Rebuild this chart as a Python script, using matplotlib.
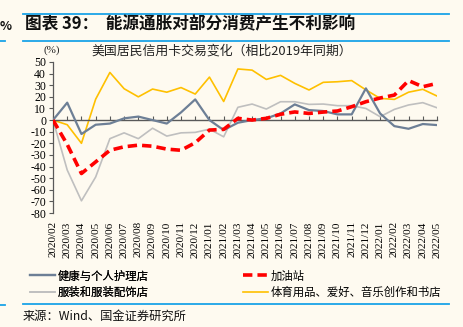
import matplotlib
matplotlib.use("Agg")
import matplotlib.pyplot as plt
from matplotlib.lines import Line2D

plt.rcParams['font.family'] = ['Noto Sans CJK SC', 'DejaVu Sans']

months = ["2020/02", "2020/03", "2020/04", "2020/05", "2020/06", "2020/07", "2020/08",
          "2020/09", "2020/10", "2020/11", "2020/12", "2021/01", "2021/02", "2021/03",
          "2021/04", "2021/05", "2021/06", "2021/07", "2021/08", "2021/09", "2021/10",
          "2021/11", "2021/12", "2022/01", "2022/02", "2022/03", "2022/04", "2022/05"]

health = [0, 15, -12, -4, -3, 1.5, 3, 0, -3, 6.6, 17.8, 0, -8.6, -2.3,
          0, 1.5, 5.7, 13.5, 8.6, 7.8, 4.9, 4.9, 27.3, 5.7, -5.2, -7.5, -3.4, -4.3]
gas = [0, -21, -46, -36, -26, -23, -21.6, -22.5, -25, -26, -19.5, -8.6, -8, 1.5,
       0, 1.5, 5, 7, 5.7, 6.9, 7.8, 11.5, 15.8, 19, 21.5, 34, 28.7, 31.6]
clothing = [0, -43, -69.5, -49, -16, -11, -16, -7, -13.8, -11, -10.6, -7.8, -14.4, 11,
            13.8, 9.5, 15.8, 15.8, 13.5, 13.8, 12.4, 12.4, 10, 2.9, 9.2, 13, 15, 10.6]
sports = [0, -4, -20, 18, 41, 27, 20, 26.7, 24, 28, 22.4, 37, 16, 44,
          43, 35, 38.5, 31.6, 25.9, 32.5, 33, 34, 26, 18.7, 17.8, 24, 26.5, 20.7]

names = ["健康与个人护理店", "加油站", "服装和服装配饰店", "体育用品、爱好、音乐创作和书店"]
yticks = list(range(-80, 51, 10))

BG = "#FEFAF0"
C_HEALTH = "#6D7F96"
C_GAS = "#FF0000"
C_CLOTH = "#BFBFBF"
C_SPORT = "#FFC000"
C_BLUE = "#1AA3E8"
C_AX = "#595959"

W, H = 463, 327
fig = plt.figure(figsize=(W / 100, H / 100), dpi=100, facecolor=BG)

def fx(px):
    return px / W

def fy(py):
    return 1 - py / H

ax_l, ax_r, ax_t, ax_b = 53, 437, 62, 213
ax = fig.add_axes([fx(ax_l), fy(ax_b), (ax_r - ax_l) / W, (ax_b - ax_t) / H])
ax.set_facecolor(BG)

x = list(range(len(months)))
l1, = ax.plot(x, health, color=C_HEALTH, lw=1.6, zorder=3)
l3, = ax.plot(x, clothing, color=C_CLOTH, lw=1.2, zorder=2)
l4, = ax.plot(x, sports, color=C_SPORT, lw=1.2, zorder=2)
l2, = ax.plot(x, gas, color=C_GAS, lw=2.6, dashes=(2.6, 1.4), zorder=4)

ax.set_xlim(0, len(months) - 1)
ax.set_ylim(-80, 50)
ax.set_yticks(yticks)
ax.set_yticklabels([str(v) for v in yticks], family='Liberation Serif', fontsize=8.5)
ax.tick_params(axis='y', direction='out', length=3, width=0.8, color=C_AX, pad=2)

for s in ['top', 'right']:
    ax.spines[s].set_visible(False)
ax.spines['left'].set_color(C_AX)
ax.spines['left'].set_linewidth(0.9)
ax.spines['bottom'].set_position(('data', 0))
ax.spines['bottom'].set_color(C_AX)
ax.spines['bottom'].set_linewidth(1.0)
ax.set_xticks(x)
ax.tick_params(axis='x', direction='in', length=3, width=0.8, color=C_AX, labelbottom=False)

sec = ax.secondary_xaxis('bottom')
sec.set_xticks(x)
sec.set_xticklabels(months, rotation=90, family='Liberation Serif', fontsize=8.1)
sec.tick_params(axis='x', length=0, pad=6)
sec.spines['bottom'].set_visible(False)

# unit label and subtitle
fig.text(fx(52), fy(50), "(%)", family='Liberation Serif', fontsize=8, ha='center', va='center', color='#222222')
fig.text(fx(222), fy(51), "美国居民信用卡交易变化（相比2019年同期）", fontsize=9.3,
         ha='center', va='center', color='#222222')

# title and frame lines
fig.text(fx(25), fy(24), "图表 39：  能源通胀对部分消费产生不利影响", fontsize=12,
         fontweight='bold', ha='left', va='center', color='#111111')
for yy in (14, 41, 304):
    fig.add_artist(Line2D([fx(23), fx(449)], [fy(yy), fy(yy)], color=C_BLUE, lw=1.3))
fig.add_artist(Line2D([0, fx(5)], [fy(41), fy(41)], color=C_BLUE, lw=1.3))
fig.add_artist(Line2D([0, fx(5)], [fy(305), fy(305)], color=C_BLUE, lw=1.3))
fig.text(0, fy(27), "%", fontsize=9, fontweight='bold', ha='left', va='center', color='#111111')

# legend (two single-column legends for exact placement)
leg_kw = dict(frameon=False, fontsize=8.2, handlelength=2.2, handletextpad=0.2,
              labelspacing=0.45, borderaxespad=0, borderpad=0, loc='center left')
leg1 = fig.legend([l1, l3], [names[0], names[2]], bbox_to_anchor=(fx(30), fy(284)), **leg_kw)
fig.add_artist(leg1)
leg2 = fig.legend([l2, l4], [names[1], names[3]], bbox_to_anchor=(fx(243), fy(284)), **leg_kw)

fig.text(fx(23), fy(316), "来源：Wind、国金证券研究所", fontsize=8.8, ha='left', va='center', color='#111111')

fig.savefig("out.png", dpi=100, facecolor=BG)
